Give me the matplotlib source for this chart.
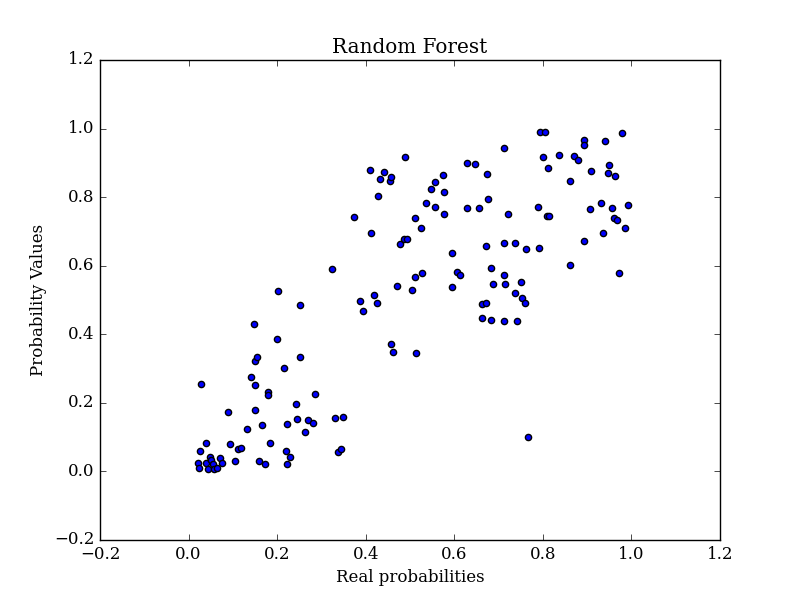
import matplotlib
matplotlib.use('Agg')
from matplotlib import pyplot as plt

# values
real_probs = [
    0.021, 0.023, 0.025, 0.027, 0.039, 0.040, 0.043, 0.048, 0.051, 0.055,
    0.058, 0.065, 0.072, 0.075, 0.088, 0.093, 0.104, 0.111, 0.118, 0.133,
    0.142, 0.149, 0.150, 0.150, 0.154, 0.148, 0.158, 0.166, 0.173, 0.179,
    0.179, 0.184, 0.199, 0.203, 0.215, 0.219, 0.222, 0.222, 0.229, 0.242,
    0.245, 0.251, 0.251, 0.264, 0.269, 0.280, 0.285, 0.323, 0.330, 0.348,
    0.338, 0.344, 0.373, 0.386, 0.393, 0.409, 0.413, 0.418, 0.425, 0.427,
    0.432, 0.441, 0.454, 0.457, 0.456, 0.461, 0.470, 0.477, 0.487, 0.493,
    0.489, 0.504, 0.511, 0.511, 0.513, 0.524, 0.527, 0.535, 0.547, 0.556,
    0.556, 0.574, 0.576, 0.576, 0.594, 0.594, 0.607, 0.613, 0.628, 0.646,
    0.628, 0.655, 0.673, 0.676, 0.671, 0.663, 0.671, 0.663, 0.684, 0.684,
    0.687, 0.712, 0.712, 0.712, 0.714, 0.712, 0.721, 0.736, 0.736, 0.741,
    0.750, 0.752, 0.760, 0.762, 0.766, 0.788, 0.791, 0.793, 0.805, 0.800,
    0.809, 0.814, 0.811, 0.836, 0.861, 0.861, 0.870, 0.879, 0.892, 0.894,
    0.894, 0.908, 0.906, 0.931, 0.935, 0.940, 0.949, 0.946, 0.964, 0.955,
    0.961, 0.967, 0.972, 0.978, 0.985, 0.992,
]
predicted_probs = [
    0.025, 0.011, 0.060, 0.256, 0.084, 0.024, 0.007, 0.043, 0.033, 0.021,
    0.008, 0.011, 0.039, 0.025, 0.174, 0.081, 0.031, 0.065, 0.069, 0.125,
    0.276, 0.180, 0.252, 0.322, 0.335, 0.431, 0.029, 0.136, 0.023, 0.232,
    0.224, 0.084, 0.386, 0.527, 0.302, 0.060, 0.138, 0.022, 0.041, 0.197,
    0.154, 0.335, 0.486, 0.116, 0.151, 0.142, 0.227, 0.591, 0.157, 0.159,
    0.057, 0.066, 0.743, 0.498, 0.469, 0.880, 0.696, 0.515, 0.492, 0.804,
    0.853, 0.874, 0.848, 0.858, 0.372, 0.349, 0.542, 0.664, 0.679, 0.679,
    0.918, 0.530, 0.740, 0.568, 0.346, 0.711, 0.579, 0.784, 0.824, 0.845,
    0.771, 0.865, 0.816, 0.752, 0.638, 0.539, 0.583, 0.574, 0.900, 0.897,
    0.769, 0.769, 0.868, 0.795, 0.658, 0.489, 0.492, 0.448, 0.594, 0.442,
    0.547, 0.944, 0.667, 0.574, 0.547, 0.440, 0.752, 0.667, 0.521, 0.440,
    0.553, 0.507, 0.492, 0.650, 0.101, 0.772, 0.653, 0.991, 0.991, 0.918,
    0.746, 0.746, 0.886, 0.924, 0.848, 0.603, 0.921, 0.909, 0.673, 0.967,
    0.952, 0.877, 0.766, 0.784, 0.696, 0.965, 0.895, 0.871, 0.862, 0.769,
    0.740, 0.734, 0.580, 0.988, 0.711, 0.778,
]

plt.style.use('classic')
plt.rcParams['font.family'] = 'serif'
plt.rcParams['font.serif'] = ['DejaVu Serif']

fig = plt.figure(figsize=(8, 6), dpi=100)
ax = fig.add_subplot(111)

ax.scatter(real_probs, predicted_probs, c='b', edgecolors='k', s=20)

ax.set_xlim(-0.2, 1.2)
ax.set_ylim(-0.2, 1.2)
ax.set_title("Random Forest")
ax.set_xlabel("Real probabilities")
ax.set_ylabel("Probability Values")

fig.savefig('out.png', dpi=100)
